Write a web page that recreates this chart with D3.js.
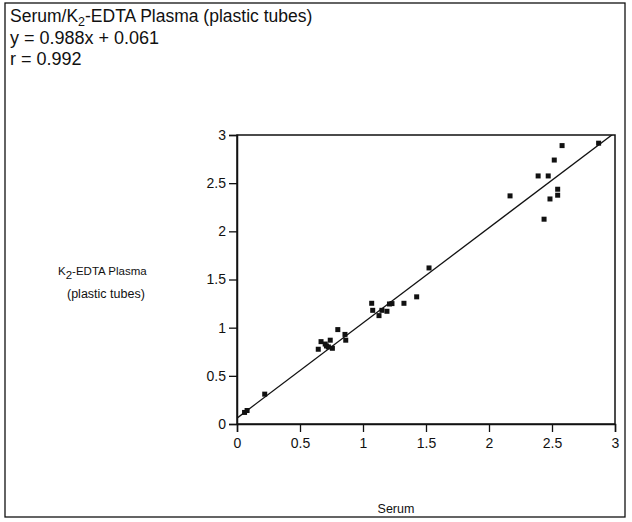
<!DOCTYPE html>
<html><head><meta charset="utf-8">
<script src="https://cdn.jsdelivr.net/npm/d3@7"></script>
<style>body{margin:0;background:#fff}svg{display:block}text{font-family:"Liberation Sans",Arial,sans-serif;fill:#111}</style>
</head><body><svg id="c" width="632" height="522"></svg>
<script>
const serum  = [0.06,0.08,0.22,0.645,0.667,0.70,0.71,0.725,0.74,0.757,0.80,0.857,0.863,1.069,1.077,1.127,1.15,1.19,1.21,1.23,1.325,1.426,1.524,2.167,2.39,2.437,2.47,2.484,2.518,2.545,2.545,2.58,2.87];
const plasma = [0.12,0.14,0.31,0.776,0.855,0.83,0.81,0.80,0.87,0.786,0.98,0.93,0.87,1.253,1.18,1.125,1.18,1.17,1.246,1.25,1.253,1.32,1.62,2.368,2.575,2.126,2.575,2.336,2.74,2.437,2.375,2.89,2.915];
const slope = 0.988, intercept = 0.061;
const xTicks = [0,0.5,1,1.5,2,2.5,3];
const yTicks = [0,0.5,1,1.5,2,2.5,3];
const titleLines = ["y = 0.988x + 0.061","r = 0.992"];

const svg = d3.select("#c");
const x = d3.scaleLinear().domain([0,3]).range([237,615]);
const y = d3.scaleLinear().domain([0,3]).range([424,135]);

svg.append("rect").attr("x",5).attr("y",3).attr("width",620).attr("height",514)
  .attr("fill","none").attr("stroke","#111").attr("stroke-width",1.3);

// title
const t = svg.append("text").attr("x",10).attr("y",22).style("font-size","17.5px");
t.append("tspan").text("Serum/K");
t.append("tspan").attr("dy",4).style("font-size","12.5px").text("2");
t.append("tspan").attr("dy",-4).text("-EDTA Plasma (plastic tubes)");
svg.selectAll(".tl").data(titleLines).join("text").attr("x",10).attr("y",(d,i)=>44+i*21)
  .style("font-size","18px").text(d=>d);

// plot frame
svg.append("rect").attr("x",x(0)).attr("y",y(3)).attr("width",x(3)-x(0)).attr("height",y(0)-y(3))
  .attr("fill","none").attr("stroke","#111").attr("stroke-width",1.5);

const xa = svg.append("g").attr("transform",`translate(0,${y(0)})`)
  .call(d3.axisBottom(x).tickValues(xTicks).tickFormat(d3.format("")).tickSize(8).tickPadding(6));
const ya = svg.append("g").attr("transform",`translate(${x(0)},0)`)
  .call(d3.axisLeft(y).tickValues(yTicks).tickFormat(d3.format("")).tickSize(8).tickPadding(3));
[xa,ya].forEach(g=>{
  g.select(".domain").attr("stroke","#111").attr("stroke-width",1.5);
  g.selectAll(".tick line").attr("stroke","#111").attr("stroke-width",1.3);
  g.selectAll(".tick text").style("font-size","14px").attr("fill","#111").style("font-family","'Liberation Sans',Arial,sans-serif");
});

// regression line clipped
svg.append("clipPath").attr("id","clp").append("rect")
  .attr("x",x(0)).attr("y",y(3)).attr("width",x(3)-x(0)).attr("height",y(0)-y(3));
svg.append("line").attr("clip-path","url(#clp)")
  .attr("x1",x(0)).attr("y1",y(intercept)).attr("x2",x(3)).attr("y2",y(slope*3+intercept))
  .attr("stroke","#111").attr("stroke-width",1.3);

// points
svg.selectAll(".pt").data(serum).join("rect").attr("class","pt")
  .attr("x",(d)=>x(d)-2.5).attr("y",(d,i)=>y(plasma[i])-2.5).attr("width",5).attr("height",5).attr("fill","#111");

// y label
const yl = svg.append("text").attr("x",58).attr("y",275).style("font-size","11.5px");
yl.append("tspan").text("K");
yl.append("tspan").attr("dy",4).style("font-size","11.5px").text("2");
yl.append("tspan").attr("dy",-4).text("-EDTA Plasma");
svg.append("text").attr("x",67).attr("y",298).style("font-size","12.5px").text("(plastic tubes)");

svg.append("text").attr("x",396).attr("y",513).attr("text-anchor","middle").style("font-size","12.5px").text("Serum");
</script></body></html>
